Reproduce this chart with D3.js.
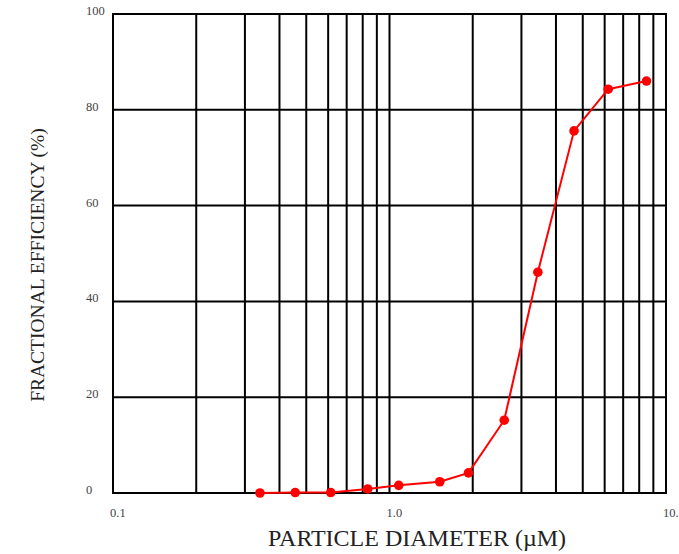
<!DOCTYPE html>
<html>
<head>
<meta charset="utf-8">
<script src="https://cdn.jsdelivr.net/npm/d3@7"></script>
<style>
  body { margin: 0; background: #fff; }
  text { font-family: "Liberation Serif", "DejaVu Serif", serif; }
</style>
</head>
<body>
<svg width="679" height="554"></svg>
<script>
// particle diameter (um) and fractional efficiency (%)
const diameters = [0.34, 0.456, 0.613, 0.834, 1.08, 1.52, 1.93, 2.6, 3.44, 4.65, 6.18, 8.5];
const efficiency = [0, 0.1, 0.1, 0.85, 1.6, 2.35, 4.2, 15.2, 46.1, 75.6, 84.3, 86.0];

const yTicks = [0, 20, 40, 60, 80, 100];
const xLabels = [0.1, 1, 10];
const xLabelText = ["0.1", "1.0", "10."];
const xGrid = [0.1, 0.2, 0.3, 0.4, 0.5, 0.6, 0.7, 0.8, 0.9, 1, 2, 3, 4, 5, 6, 7, 8, 9, 10];

let svg = d3.select("svg");
let plotLeft = 113, plotRight = 666, plotTop = 14, plotBottom = 493;

let x = d3.scaleLog().domain([0.1, 10]).range([plotLeft, plotRight]);
let y = d3.scaleLinear().domain([0, 100]).range([plotBottom, plotTop]);

let g = svg.append("g");

// grid
g.selectAll("line.v")
  .data(xGrid)
  .enter()
  .append("line")
  .attr("class", "v")
  .attr("x1", d => x(d))
  .attr("x2", d => x(d))
  .attr("y1", plotTop)
  .attr("y2", plotBottom)
  .attr("stroke", "#000")
  .attr("stroke-width", 2);

g.selectAll("line.h")
  .data(yTicks)
  .enter()
  .append("line")
  .attr("class", "h")
  .attr("x1", plotLeft - 1)
  .attr("x2", plotRight + 1)
  .attr("y1", d => y(d))
  .attr("y2", d => y(d))
  .attr("stroke", "#000")
  .attr("stroke-width", 2);

// tick labels
g.selectAll("text.yl")
  .data(yTicks)
  .enter()
  .append("text")
  .attr("class", "yl")
  .attr("x", 86)
  .attr("y", d => y(d) + 1)
  .attr("font-size", 12.5)
  .attr("fill", "#444")
  .text(d => d);

g.selectAll("text.xl")
  .data(xLabels)
  .enter()
  .append("text")
  .attr("class", "xl")
  .attr("x", d => x(d) - 3)
  .attr("y", 517)
  .attr("font-size", 12.5)
  .attr("fill", "#444")
  .text((d, i) => xLabelText[i]);

// axis titles
svg.append("text")
  .attr("x", 417)
  .attr("y", 546)
  .attr("text-anchor", "middle")
  .attr("font-size", 24)
  .attr("fill", "#222")
  .text("PARTICLE DIAMETER (\u00B5M)");

svg.append("text")
  .attr("transform", "translate(44,265) rotate(-90)")
  .attr("text-anchor", "middle")
  .attr("font-size", 19.5)
  .attr("fill", "#222")
  .text("FRACTIONAL EFFICIENCY (%)");

// series
let pts = diameters.map((d, i) => [d, efficiency[i]]);

g.append("path")
  .datum(pts)
  .attr("fill", "none")
  .attr("stroke", "#ff0000")
  .attr("stroke-width", 2)
  .attr("d", d3.line().x(d => x(d[0])).y(d => y(d[1])));

g.selectAll("circle")
  .data(pts)
  .enter()
  .append("circle")
  .attr("cx", d => x(d[0]))
  .attr("cy", d => y(d[1]))
  .attr("r", 4.8)
  .attr("fill", "#ff0000");
</script>
</body>
</html>
